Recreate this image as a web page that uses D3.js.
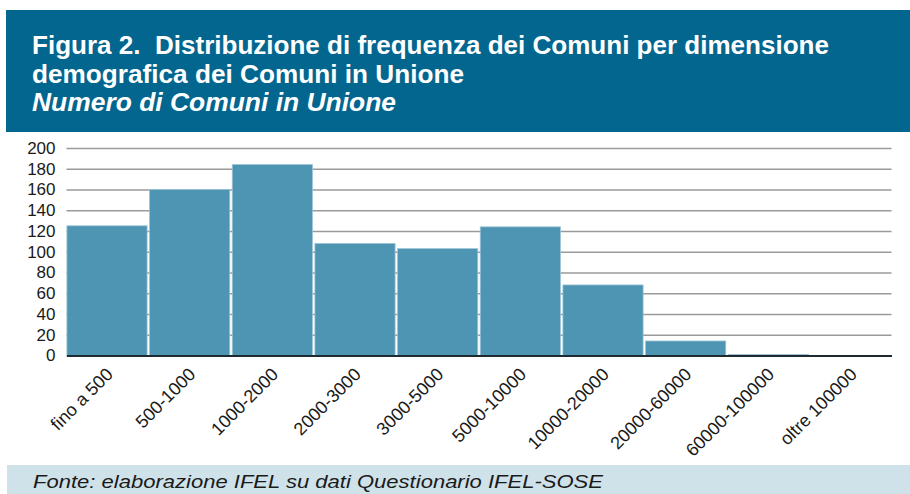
<!DOCTYPE html>
<html>
<head>
<meta charset="utf-8">
<script src="https://cdn.jsdelivr.net/npm/d3@7"></script>
<style>
  html, body { margin: 0; padding: 0; background: #fff; }
  svg { display: block; }
</style>
</head>
<body>
<div id="chart"></div>
<script>
// data
const categories = ["fino a 500", "500-1000", "1000-2000", "2000-3000", "3000-5000",
                    "5000-10000", "10000-20000", "20000-60000", "60000-100000", "oltre 100000"];
const comuni = [125, 160, 184, 108, 103, 124, 68, 14, 1, 0];
const yTicks = [0, 20, 40, 60, 80, 100, 120, 140, 160, 180, 200];
const titleLines = ["Figura 2.  Distribuzione di frequenza dei Comuni per dimensione",
                    "demografica dei Comuni in Unione"];
const subtitle = "Numero di Comuni in Unione";
const source = "Fonte: elaborazione IFEL su dati Questionario IFEL-SOSE";

const width = 910, height = 494;
const plot = { left: 66.5, right: 891.5, top: 148, bottom: 355.5 };

const svg = d3.create("svg")
    .attr("width", width)
    .attr("height", height)
    .style("font-family", "'Liberation Sans', Arial, sans-serif");

// header box
svg.append("rect")
    .attr("x", 6).attr("y", 10)
    .attr("width", width - 6).attr("height", 122)
    .attr("fill", "#03668f");

const titleWidths = [797, 432];
titleLines.forEach((t, i) => {
    svg.append("text")
        .attr("x", 32).attr("y", 53.5 + i * 29)
        .attr("fill", "#fff")
        .style("white-space", "pre")
        .style("font-family", "'Liberation Sans Narrow', 'Liberation Sans', Arial, sans-serif")
        .style("font-weight", "bold")
        .style("font-size", "25px")
        .attr("textLength", titleWidths[i])
        .attr("lengthAdjust", "spacingAndGlyphs")
        .text(t);
});
svg.append("text")
    .attr("x", 32).attr("y", 110.5)
    .attr("fill", "#fff")
    .style("font-family", "'Liberation Sans Narrow', 'Liberation Sans', Arial, sans-serif")
    .style("font-weight", "bold")
    .style("font-style", "italic")
    .style("font-size", "25px")
    .attr("textLength", 364)
    .attr("lengthAdjust", "spacingAndGlyphs")
    .text(subtitle);

// scales
const x = d3.scaleBand()
    .domain(categories)
    .range([plot.left, plot.right])
    .paddingInner(0.03)
    .paddingOuter(0.005);

const y = d3.scaleLinear()
    .domain([0, 200])
    .range([plot.bottom, plot.top]);

// gridlines + y labels
svg.append("g")
    .attr("transform", `translate(${plot.left},0)`)
    .call(d3.axisLeft(y).tickValues(yTicks).tickSize(0).tickPadding(11))
    .call(g => g.select(".domain").remove())
    .call(g => g.selectAll(".tick text")
        .attr("fill", "#1a1a1a")
        .style("font-size", "17px")
        .style("font-family", "'Liberation Sans', Arial, sans-serif"))
    .call(g => g.selectAll(".tick line").clone()
        .attr("x2", plot.right - plot.left)
        .attr("stroke", "#9a9a9a")
        .attr("stroke-width", 1.6));

// bars
svg.append("g")
    .selectAll("rect")
    .data(comuni)
    .join("rect")
    .attr("x", (d, i) => x(categories[i]))
    .attr("y", d => y(d))
    .attr("width", x.bandwidth())
    .attr("height", d => y(0) - y(d))
    .attr("fill", "#4e94b3")
    .attr("stroke", "#9cc4d5")
    .attr("stroke-width", 0.8);

// x axis baseline and labels
svg.append("g")
    .attr("transform", `translate(0,${plot.bottom})`)
    .call(d3.axisBottom(x).tickSize(0).tickPadding(0))
    .call(g => g.select(".domain")
        .attr("stroke", "#1e2a30")
        .attr("stroke-width", 2.2))
    .call(g => g.selectAll(".tick text")
        .attr("fill", "#1a1a1a")
        .style("font-size", "18px")
        .style("font-family", "'Liberation Sans', Arial, sans-serif")
        .attr("text-anchor", "end")
        .attr("dy", null)
        .attr("transform", "translate(7,20) rotate(-45)"));

// source box
svg.append("rect")
    .attr("x", 7).attr("y", 465)
    .attr("width", width - 7).attr("height", 29)
    .attr("fill", "#cfe2ea");

svg.append("text")
    .attr("x", 33).attr("y", 488)
    .attr("fill", "#1a1a1a")
    .style("font-style", "italic")
    .style("font-size", "18px")
    .attr("textLength", 570)
    .attr("lengthAdjust", "spacingAndGlyphs")
    .text(source);

document.getElementById("chart").appendChild(svg.node());
</script>
</body>
</html>
